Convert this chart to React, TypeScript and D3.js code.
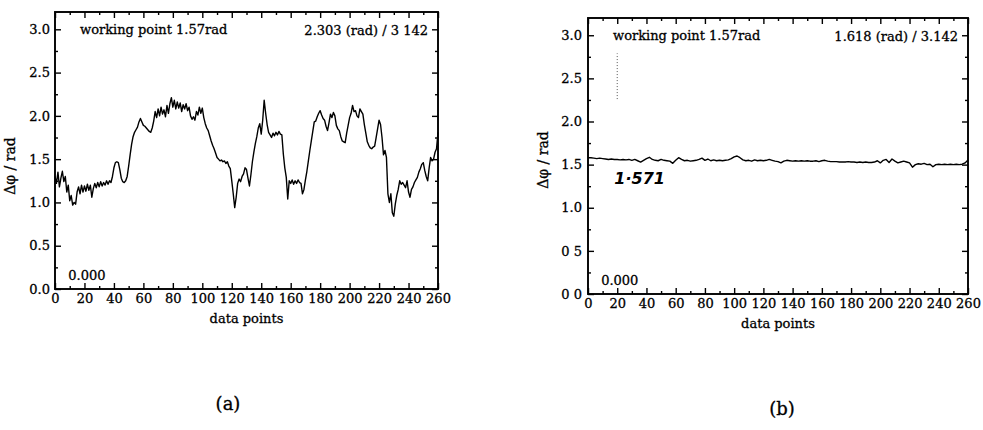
import React, { useEffect, useRef } from "react";
import * as d3 from "d3";

// (a) phase difference, one value per data point (0..260)
const phaseA = [
  1.3, 1.22, 1.35, 1.18, 1.28, 1.36, 1.24, 1.3, 1.12, 1.2,
  1.02, 1.08, 0.97, 1.0, 0.98, 1.12, 1.18, 1.1, 1.2, 1.12,
  1.19, 1.13, 1.21, 1.14, 1.2, 1.06, 1.16, 1.22, 1.17, 1.23,
  1.18, 1.24, 1.19, 1.23, 1.2, 1.25, 1.21, 1.25, 1.23, 1.3,
  1.4, 1.46, 1.47, 1.46, 1.38, 1.28, 1.24, 1.23, 1.25, 1.3,
  1.42, 1.55, 1.67, 1.76, 1.81, 1.84, 1.87, 1.93, 1.97, 1.93,
  1.89, 1.88, 1.86, 1.84, 1.82, 1.81, 1.86, 1.94, 2.05, 1.98,
  2.08, 2.0, 2.1, 2.02, 2.07, 1.99, 2.12, 2.03, 2.14, 2.21,
  2.1, 2.18, 2.08, 2.16, 2.09, 2.15, 2.05, 2.13, 2.08, 2.14,
  2.06, 2.1, 2.0, 1.96, 1.99, 1.95, 2.05, 2.01, 2.1, 2.03,
  2.09, 1.98, 1.91, 1.86, 1.83, 1.77, 1.71, 1.66, 1.62, 1.57,
  1.52, 1.5, 1.48, 1.49, 1.47, 1.48, 1.45, 1.47, 1.42, 1.39,
  1.25, 1.1, 0.94, 1.06, 1.22, 1.27, 1.24, 1.3, 1.33, 1.4,
  1.38, 1.28, 1.19, 1.32, 1.47, 1.58, 1.68, 1.76, 1.86, 1.91,
  1.79, 1.95, 2.18, 2.03, 1.9, 1.81, 1.78, 1.75, 1.8, 1.77,
  1.81, 1.78, 1.82, 1.79, 1.78, 1.56, 1.4, 1.29, 1.04, 1.25,
  1.22, 1.26, 1.21, 1.25, 1.22, 1.26, 1.23, 1.22, 1.1, 1.15,
  1.26, 1.36, 1.48, 1.6, 1.71, 1.82, 1.93, 1.94, 1.99, 2.03,
  2.06, 2.01, 1.97, 1.95, 1.88, 1.83, 1.92, 2.02, 1.98, 2.04,
  2.0, 1.89, 1.85, 1.83, 1.76, 1.71, 1.7, 1.69, 1.8, 1.89,
  1.98, 2.03, 2.12, 2.05, 2.06, 2.0, 1.98, 2.08, 2.05, 2.02,
  1.9, 1.8, 1.7, 1.66, 1.63, 1.62, 1.64, 1.65, 1.75, 1.85,
  1.95, 1.9, 1.75, 1.55, 1.6, 1.52, 1.1, 1.0, 1.1, 0.88,
  0.84, 0.98, 1.08, 1.15, 1.25, 1.21, 1.23, 1.2, 1.17, 1.25,
  1.12, 1.06, 1.15, 1.18, 1.23, 1.26, 1.29, 1.35, 1.39, 1.44,
  1.46, 1.37, 1.3, 1.25, 1.4, 1.52, 1.48, 1.5, 1.58, 1.62,
  1.81,
];

// (b) phase difference, read every 2 data points (0..260)
const stepB = 2;
const phaseB = [
  1.58, 1.58, 1.575, 1.57, 1.575, 1.57, 1.565, 1.56, 1.565, 1.56,
  1.56, 1.555, 1.56, 1.555, 1.56, 1.55, 1.56, 1.545, 1.53, 1.55,
  1.57, 1.585, 1.56, 1.55, 1.545, 1.56, 1.55, 1.545, 1.54, 1.515,
  1.55, 1.58, 1.56, 1.545, 1.55, 1.54, 1.545, 1.55, 1.56, 1.575,
  1.55, 1.565, 1.545, 1.555, 1.545, 1.55, 1.545, 1.55, 1.555, 1.57,
  1.59, 1.6, 1.58, 1.555, 1.545, 1.55, 1.54, 1.555, 1.545, 1.55,
  1.545, 1.55, 1.56, 1.55, 1.54, 1.535, 1.52, 1.54, 1.55, 1.545,
  1.54, 1.545, 1.54, 1.545, 1.54, 1.545, 1.54, 1.54, 1.545, 1.535,
  1.545, 1.55, 1.54, 1.535, 1.535, 1.535, 1.53, 1.53, 1.53, 1.535,
  1.53, 1.53, 1.525, 1.53, 1.525, 1.53, 1.525, 1.525, 1.53, 1.545,
  1.52, 1.55, 1.56, 1.525, 1.565, 1.54, 1.52, 1.53, 1.54, 1.53,
  1.52, 1.47, 1.5, 1.51, 1.505, 1.515, 1.5, 1.505, 1.475, 1.5,
  1.505, 1.5, 1.505, 1.5, 1.505, 1.5, 1.505, 1.5, 1.505, 1.52,
  1.555,
];

// faint dotted mark in (b) at data point 20
const dottedB = [2.26, 2.79];

const xTicks = [0, 20, 40, 60, 80, 100, 120, 140, 160, 180, 200, 220, 240, 260];
const xMinor = [10, 30, 50, 70, 90, 110, 130, 150, 170, 190, 210, 230, 250];
const yTicks = [0, 0.5, 1.0, 1.5, 2.0, 2.5, 3.0];
const yMinor = [0.25, 0.75, 1.25, 1.75, 2.25, 2.75];
const yLabelsA = ["0.0", "0.5", "1.0", "1.5", "2.0", "2.5", "3.0"];
const yLabelsB = ["0 0", "0 5", "1.0", "1.5", "2.0", "2.5", "3.0"];

const FONT = "'DejaVu Serif', serif";

function drawPanel(root, p) {
  var x = d3.scaleLinear().domain([0, 260]).range([p.left, p.right]);
  var y = d3.scaleLinear().domain([0, 3.2]).range([p.bottom, p.top]);

  var g = root.append("g");

  // axes with inward ticks on all four sides
  const style = (a) => {
    a.attr("font-family", FONT).attr("font-size", 13);
    a.select(".domain").remove();
    a.selectAll("line").attr("stroke", "#000").attr("stroke-width", 1.4);
    a.selectAll("text").attr("fill", "#000").attr("stroke", "#000").attr("stroke-width", 0.3);
  };

  g.append("g")
    .attr("transform", `translate(0, ${p.bottom})`)
    .call(d3.axisBottom(x).tickValues(xTicks).tickSize(-6).tickSizeOuter(0).tickPadding(5).tickFormat(d3.format("d")))
    .call(style);
  g.append("g")
    .attr("transform", `translate(0, ${p.bottom})`)
    .call(d3.axisBottom(x).tickValues(xMinor).tickSize(-3).tickSizeOuter(0).tickFormat(() => ""))
    .call(style);
  g.append("g")
    .attr("transform", `translate(0, ${p.top})`)
    .call(d3.axisTop(x).tickValues(xTicks).tickSize(-6).tickSizeOuter(0).tickFormat(() => ""))
    .call(style);
  g.append("g")
    .attr("transform", `translate(0, ${p.top})`)
    .call(d3.axisTop(x).tickValues(xMinor).tickSize(-3).tickSizeOuter(0).tickFormat(() => ""))
    .call(style);

  g.append("g")
    .attr("transform", `translate(${p.left}, 0)`)
    .call(d3.axisLeft(y).tickValues(yTicks).tickSize(-6).tickSizeOuter(0).tickPadding(p.yPad).tickFormat((d, i) => p.yLabels[i]))
    .call(style);
  g.append("g")
    .attr("transform", `translate(${p.left}, 0)`)
    .call(d3.axisLeft(y).tickValues(yMinor).tickSize(-3).tickSizeOuter(0).tickFormat(() => ""))
    .call(style);
  g.append("g")
    .attr("transform", `translate(${p.right}, 0)`)
    .call(d3.axisRight(y).tickValues(yTicks).tickSize(-6).tickSizeOuter(0).tickFormat(() => ""))
    .call(style);
  g.append("g")
    .attr("transform", `translate(${p.right}, 0)`)
    .call(d3.axisRight(y).tickValues(yMinor).tickSize(-3).tickSizeOuter(0).tickFormat(() => ""))
    .call(style);

  // frame
  g.append("rect")
    .attr("x", p.left)
    .attr("y", p.top)
    .attr("width", p.right - p.left)
    .attr("height", p.bottom - p.top)
    .attr("fill", "none")
    .attr("stroke", "#000")
    .attr("stroke-width", 1.9);

  // the trace
  const line = d3
    .line()
    .x((d, i) => x(i * p.step))
    .y((d) => y(d));
  g.append("path")
    .datum(p.data)
    .attr("d", line)
    .attr("fill", "none")
    .attr("stroke", "#000")
    .attr("stroke-width", 1.4)
    .attr("stroke-linejoin", "round");

  // labels
  const text = (tx, ty, s, anchor = "start", size = 13) =>
    g.append("text")
      .attr("x", tx)
      .attr("y", ty)
      .attr("font-family", FONT)
      .attr("font-size", size)
      .attr("text-anchor", anchor)
      .attr("stroke", "#000")
      .attr("stroke-width", 0.3)
      .text(s);

  text(p.left + 25, p.top + 22, "working point 1.57rad");
  text(p.right - 10, p.top + 23, p.reading, "end");
  text(x(9), y(0) - 9, "0.000");
  text((p.left + p.right) / 2, p.bottom + 34, "data points", "middle");
  text(p.caption[0], p.caption[1], p.caption[2], "middle", 18);

  g.append("text")
    .attr("transform", `translate(${p.left - 40}, ${p.labelY}) rotate(-90)`)
    .attr("font-family", FONT)
    .attr("font-size", 14)
    .attr("text-anchor", "middle")
    .attr("stroke", "#000")
    .attr("stroke-width", 0.3)
    .text("Δφ / rad");

  return { x, y, g };
}

export default function App() {
  const ref = useRef(null);

  useEffect(() => {
    var svg = d3.select(ref.current);
    svg.selectAll("*").remove();

    drawPanel(svg, {
      left: 55, right: 438, top: 12, bottom: 289,
      data: phaseA, step: 1, yLabels: yLabelsA, yPad: 5,
      reading: "2.303 (rad) /  3 142", labelY: 166,
      caption: [228, 410, "(a)"],
    });

    const b = drawPanel(svg, {
      left: 588, right: 968, top: 18, bottom: 294,
      data: phaseB, step: stepB, yLabels: yLabelsB, yPad: 6,
      reading: "1.618 (rad) / 3.142", labelY: 160,
      caption: [782, 415, "(b)"],
    });

    // dotted scan mark and hand-written note on (b)
    b.g.append("line")
      .attr("x1", b.x(20)).attr("x2", b.x(20))
      .attr("y1", b.y(dottedB[0])).attr("y2", b.y(dottedB[1]))
      .attr("stroke", "#555")
      .attr("stroke-width", 1)
      .attr("stroke-dasharray", "1,2");
    b.g.append("text")
      .attr("x", b.x(18))
      .attr("y", b.y(1.28))
      .attr("font-family", "'DejaVu Sans', sans-serif")
      .attr("font-size", 16)
      .attr("font-weight", "bold")
      .attr("font-style", "italic")
      .text("1·571");
  }, []);

  return (
    <svg
      ref={ref}
      width={983}
      height={430}
      style={{ position: "absolute", left: 0, top: 0, background: "#fff" }}
    />
  );
}
